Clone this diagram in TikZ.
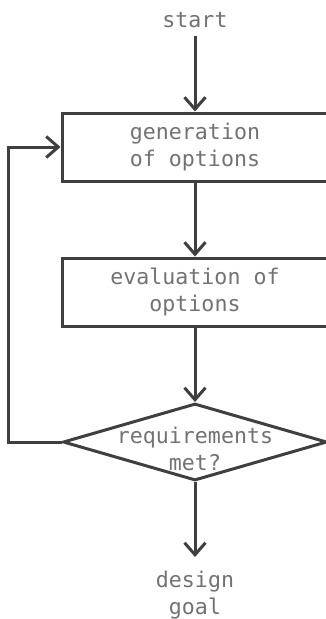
\documentclass[tikz,border=0pt]{standalone}
\usepackage{fontspec}
\setmonofont{DejaVu Sans Mono}
\usetikzlibrary{arrows.meta,shapes.geometric}

\definecolor{linegray}{HTML}{3F3F3F}
\definecolor{textgray}{HTML}{727272}

\tikzset{
  x=1pt, y=-1pt,
  every node/.style={font=\ttfamily\fontsize{21.6}{27}\selectfont, text=textgray},
  stepbox/.style={draw=linegray, line width=3pt, rectangle,
    minimum width=266pt, minimum height=68pt, inner sep=0pt, align=center},
  decision/.style={draw=linegray, line width=3pt, diamond,
    minimum width=264pt, minimum height=77pt, inner sep=0pt},
  plain/.style={align=center, inner sep=0pt},
  flow/.style={draw=linegray, line width=3pt,
    -{Straight Barb[length=12pt, width=21pt]}},
}

\begin{document}
\begin{tikzpicture}
  \clip (0,0) rectangle (326,619);

  % terminals and process steps
  \node[plain, anchor=base] (start) at (195,27) {start};
  \node[stepbox] (gen) at (195,147) {generation\\of options};
  \node[stepbox] (eval) at (195,292) {evaluation of\\options};
  \node[decision] (dec) at (195,442) {};
  \node[plain] (declbl) at (195,449) {requirements\\met?};
  \node[plain, anchor=north] (goal) at (195,571) {design\\goal};

  % main flow
  \draw[flow] ([yshift=-9pt]start.base) -- (gen.north);
  \draw[flow] (gen.south) -- (eval.north);
  \draw[flow] (eval.south) -- (dec.north);
  \draw[flow] (dec.south) -- ([yshift=14pt]goal.north);

  % loop back when requirements are not met
  \draw[flow] (dec.west) -- ++(-53,0) |- (gen.west);
\end{tikzpicture}
\end{document}
